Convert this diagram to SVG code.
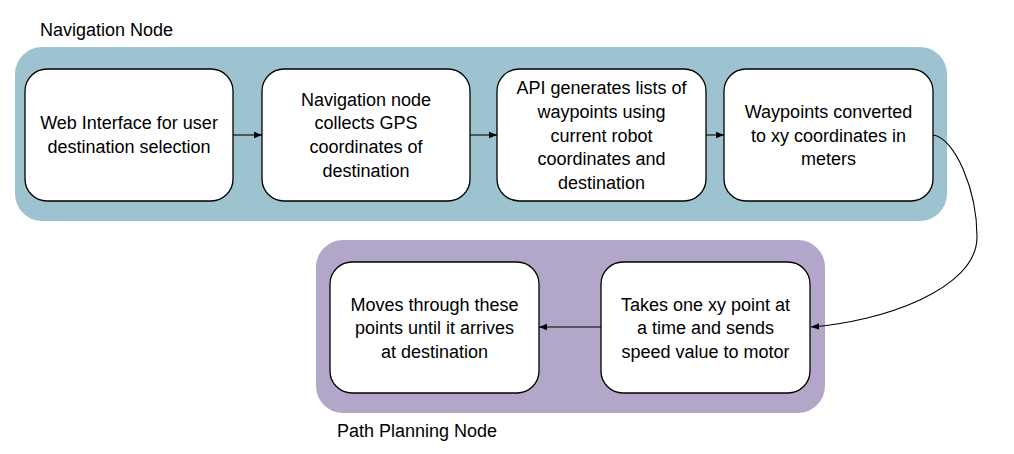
<svg xmlns="http://www.w3.org/2000/svg" width="1014" height="454" viewBox="0 0 1014 454">
<style>
  text { font-family: "Liberation Sans", Arial, sans-serif; font-size: 18px; fill: #000; }
  .c { text-anchor: middle; }
  .box { fill: #fff; stroke: #000; stroke-width: 1.3; }
  .conn { fill: none; stroke: #000; stroke-width: 1.1; }
</style>
<defs>
  <marker id="arr" viewBox="0 0 10 10" refX="10" refY="5" markerWidth="8" markerHeight="8" markerUnits="userSpaceOnUse" orient="auto">
    <path d="M0,1 L10,5 L0,9 z" fill="#000"/>
  </marker>
</defs>
<rect width="1014" height="454" fill="#fff"/>
<g id="navigation-container">
  <rect x="15" y="47" width="932" height="174" rx="27" fill="#9DC3D0"/>
  <text x="40" y="36">Navigation Node</text>
</g>
<g id="path-planning-container">
  <rect x="316" y="240" width="509" height="173" rx="27" fill="#B2A7C9"/>
  <text x="337" y="437">Path Planning Node</text>
</g>
<g id="node-web">
  <rect class="box" x="25" y="69" width="208" height="132" rx="22"/>
  <text class="c" x="129" y="129">Web Interface for user</text>
  <text class="c" x="129" y="153">destination selection</text>
</g>
<g id="node-collect">
  <rect class="box" x="262" y="69" width="208" height="132" rx="22"/>
  <text class="c" x="366" y="106">Navigation node</text>
  <text class="c" x="366" y="129">collects GPS</text>
  <text class="c" x="366" y="153">coordinates of</text>
  <text class="c" x="366" y="177">destination</text>
</g>
<g id="node-api">
  <rect class="box" x="497" y="69" width="209" height="132" rx="22"/>
  <text class="c" x="601.5" y="94">API generates lists of</text>
  <text class="c" x="601.5" y="118">waypoints using</text>
  <text class="c" x="601.5" y="142">current robot</text>
  <text class="c" x="601.5" y="165">coordinates and</text>
  <text class="c" x="601.5" y="189">destination</text>
</g>
<g id="node-convert">
  <rect class="box" x="724" y="69" width="209" height="132" rx="22"/>
  <text class="c" x="828.5" y="118">Waypoints converted</text>
  <text class="c" x="828.5" y="142">to xy coordinates in</text>
  <text class="c" x="828.5" y="165">meters</text>
</g>
<g id="node-takes">
  <rect class="box" x="601" y="262" width="209" height="131" rx="22"/>
  <text class="c" x="705.5" y="311">Takes one xy point at</text>
  <text class="c" x="705.5" y="334">a time and sends</text>
  <text class="c" x="705.5" y="358">speed value to motor</text>
</g>
<g id="node-moves">
  <rect class="box" x="330" y="262" width="209" height="131" rx="22"/>
  <text class="c" x="434.5" y="311">Moves through these</text>
  <text class="c" x="434.5" y="334">points until it arrives</text>
  <text class="c" x="434.5" y="358">at destination</text>
</g>
<g id="connectors">
  <path class="conn" d="M233,135 L262,135" marker-end="url(#arr)"/>
  <path class="conn" d="M470,135 L497,135" marker-end="url(#arr)"/>
  <path class="conn" d="M706,135 L724,135" marker-end="url(#arr)"/>
  <path class="conn" d="M933,135 C955,138 977,190 977,237 C977,290 880,322 811,327" marker-end="url(#arr)"/>
  <path class="conn" d="M601,327 L539,327" marker-end="url(#arr)"/>
</g>
</svg>
